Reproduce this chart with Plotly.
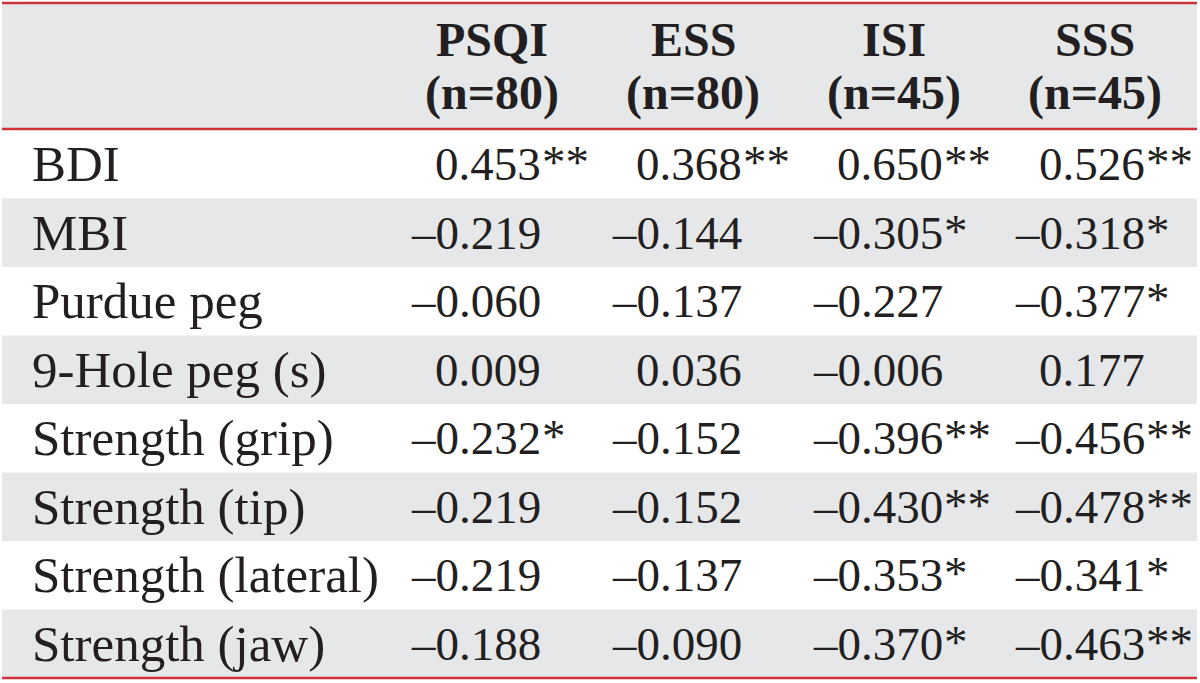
import plotly.graph_objects as go

row_labels = ["BDI", "MBI", "Purdue peg", "9-Hole peg (s)", "Strength (grip)",
              "Strength (tip)", "Strength (lateral)", "Strength (jaw)"]
col_names = ["PSQI", "ESS", "ISI", "SSS"]
col_n = ["(n=80)", "(n=80)", "(n=45)", "(n=45)"]
psqi = ["0.453**", "–0.219", "–0.060", "0.009", "–0.232*", "–0.219", "–0.219", "–0.188"]
ess = ["0.368**", "–0.144", "–0.137", "0.036", "–0.152", "–0.152", "–0.137", "–0.090"]
isi = ["0.650**", "–0.305*", "–0.227", "–0.006", "–0.396**", "–0.430**", "–0.353*", "–0.370*"]
sss = ["0.526**", "–0.318*", "–0.377*", "0.177", "–0.456**", "–0.478**", "–0.341*", "–0.463**"]
columns = [psqi, ess, isi, sss]

W, H = 1200, 683
FONT = "Liberation Serif"
FS_HEAD = 48
FS_LAB = 51
FS_NUM = 47
TXT = "#231f20"
GRAY = "#e6e7e9"
RED = "#cf3339"
left, right = 2, 1197
row_top, row_h = 130, 68.5
head_top = 3
col_num_x = [543, 744, 945, 1147]
col_head_x = [492, 693, 894, 1095]
label_x = 30

fig = go.Figure()
shapes = []
annotations = []

shapes.append(dict(type="rect", x0=left, x1=right, y0=head_top, y1=row_top,
                   fillcolor=GRAY, line_width=0, layer="below"))
for i in range(len(row_labels)):
    if i % 2 == 1:
        shapes.append(dict(type="rect", x0=left, x1=right,
                           y0=row_top + i * row_h, y1=row_top + (i + 1) * row_h,
                           fillcolor=GRAY, line_width=0, layer="below"))
for yy in [head_top, row_top - 1, row_top + len(row_labels) * row_h]:
    shapes.append(dict(type="line", x0=left, x1=right, y0=yy, y1=yy,
                       line=dict(color=RED, width=2.5)))

for j, (nm, nn) in enumerate(zip(col_names, col_n)):
    annotations.append(dict(x=col_head_x[j], y=39, text="<b>%s</b>" % nm, showarrow=False,
                            xanchor="center", yanchor="middle",
                            font=dict(family=FONT, size=FS_HEAD, color=TXT)))
    annotations.append(dict(x=col_head_x[j], y=93, text="<b>%s</b>" % nn, showarrow=False,
                            xanchor="center", yanchor="middle",
                            font=dict(family=FONT, size=FS_HEAD, color=TXT)))

for i, lab in enumerate(row_labels):
    yc = row_top + (i + 0.5) * row_h
    annotations.append(dict(x=label_x, y=yc, text=lab, showarrow=False,
                            xanchor="left", yanchor="middle",
                            font=dict(family=FONT, size=FS_LAB, color=TXT)))
    for j, col in enumerate(columns):
        v = col[i]
        num = v.rstrip("*")
        stars = v[len(num):]
        annotations.append(dict(x=col_num_x[j], y=yc, text=num, showarrow=False,
                                xanchor="right", yanchor="middle",
                                font=dict(family=FONT, size=FS_NUM, color=TXT)))
        if stars:
            annotations.append(dict(x=col_num_x[j] - 3, y=yc - 2, text=stars, showarrow=False,
                                    xanchor="left", yanchor="middle",
                                    font=dict(family=FONT, size=FS_NUM, color=TXT)))

fig.update_layout(
    width=W, height=H, margin=dict(l=0, r=0, t=0, b=0),
    paper_bgcolor="white", plot_bgcolor="white",
    xaxis=dict(range=[0, W], visible=False, fixedrange=True),
    yaxis=dict(range=[H, 0], visible=False, fixedrange=True),
    shapes=shapes, annotations=annotations, showlegend=False,
)
fig.write_html("out.html", config={"displayModeBar": False},
               post_script="document.body.style.margin='0';document.body.style.overflow='hidden';")
